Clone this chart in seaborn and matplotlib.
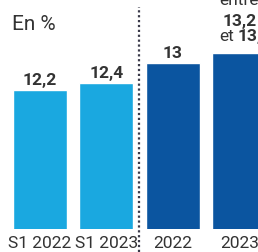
import matplotlib
matplotlib.use("Agg")
import matplotlib.pyplot as plt
import seaborn as sns
import pandas as pd

categories = ["S1 2022", "S1 2023", "2022", "2023"]
values = [12.2, 12.4, 13.0, 13.3]
labels = ["12,2", "12,4", "13", None]
colors = ["#1aa8e0", "#1aa8e0", "#0b55a0", "#0b55a0"]

sns.set_style("white")
plt.rcParams["font.family"] = ["Roboto", "DejaVu Sans"]

df = pd.DataFrame({"periode": categories, "taux": values})

fig = plt.figure(figsize=(2.58, 2.53), dpi=100)
ax = fig.add_axes([0, 23 / 253, 1, 230 / 253])
sns.barplot(data=df, x="periode", y="taux", hue="periode", palette=colors,
            width=0.81, saturation=1, legend=False, ax=ax)

ax.set_ylim(8.08, 14.89)
ax.set_xlim(-0.60, 3.28)
ax.set_xlabel("")
ax.set_ylabel("")
ax.set_yticks([])
ax.tick_params(axis="x", length=0, pad=4, labelsize=12.5, labelcolor="#333333")
sns.despine(ax=ax, left=True, bottom=True)
ax.set_facecolor("none")

# valeurs au-dessus des barres
for i, (v, lab) in enumerate(zip(values, labels)):
    if lab:
        ax.annotate(lab, (i, v), xytext=(0, 2), textcoords="offset points",
                    ha="center", va="bottom", fontsize=12.5, fontweight="bold",
                    color="#333333")

# fourchette pour 2023
ax.annotate("entre", (3, values[3]), xytext=(0, 33), textcoords="offset points",
            ha="center", va="bottom", fontsize=12.5, color="#333333")
ax.annotate("13,2", (3, values[3]), xytext=(0, 18), textcoords="offset points",
            ha="center", va="bottom", fontsize=12.5, fontweight="bold", color="#333333")
ax.annotate("et", (2.70, values[3]), xytext=(0, 7), textcoords="offset points",
            ha="left", va="bottom", fontsize=12.5, color="#333333")
ax.annotate("13,4", (2.98, values[3]), xytext=(0, 7), textcoords="offset points",
            ha="left", va="bottom", fontsize=12.5, fontweight="bold", color="#333333")

# separateur semestre / annee
fig.add_artist(plt.Line2D([139 / 258, 139 / 258], [0, 1 - 8 / 253],
                          transform=fig.transFigure, color="#3a3a4a",
                          linestyle=(0, (1, 1.2)), linewidth=1.6))

fig.text(12 / 258, 1 - 25 / 253, "En %", fontsize=15, color="#333333",
         ha="left", va="center")

fig.savefig("out.png", dpi=100)
